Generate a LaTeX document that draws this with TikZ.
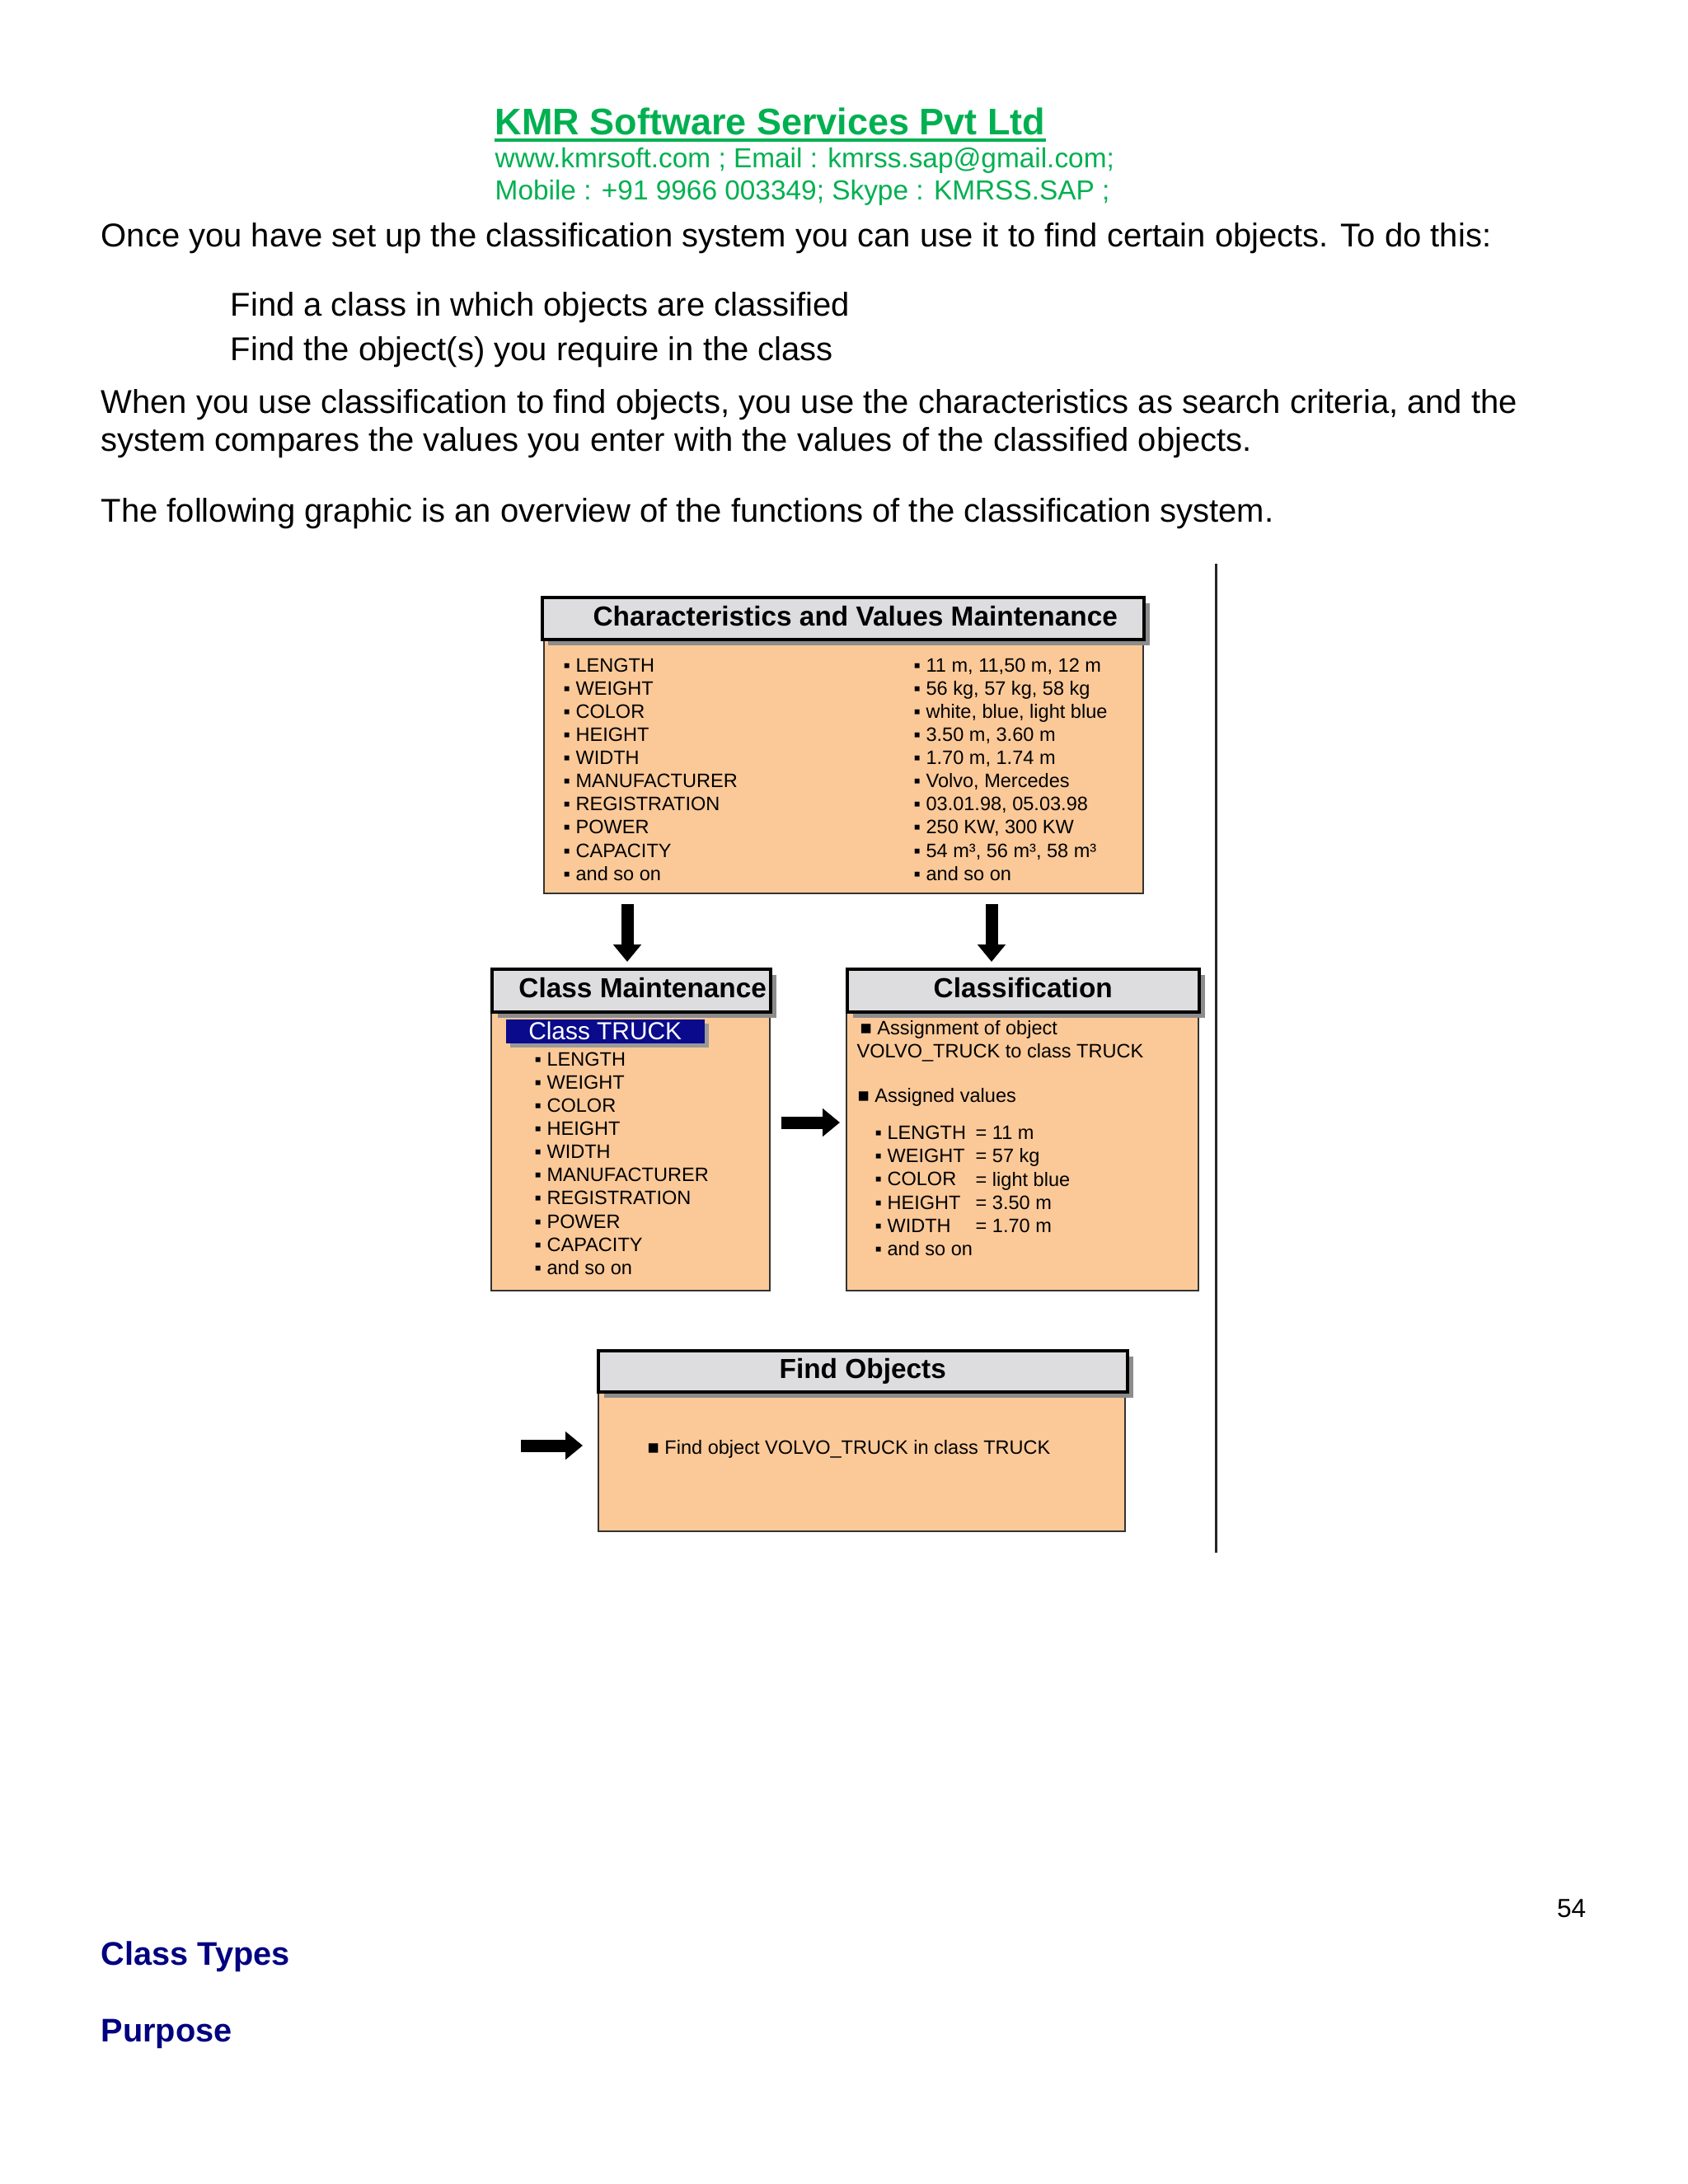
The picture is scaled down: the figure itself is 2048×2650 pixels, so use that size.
\documentclass[tikz,border=0pt]{standalone}
\usepackage{fontspec}
\setmainfont{Liberation Sans}
\usepackage{xcolor}
\usetikzlibrary{arrows.meta,positioning,shadows}

\definecolor{kmrgreen}{RGB}{0,176,80}
\definecolor{headnavy}{RGB}{0,0,128}
\definecolor{boxpeach}{RGB}{251,201,152}
\definecolor{bargray}{RGB}{221,221,223}
\definecolor{selnavy}{RGB}{10,10,140}

\begin{document}
\begin{tikzpicture}[
x=0.1mm, y=-0.1mm,
pagetxt/.style={anchor=base west, inner sep=0pt, font=\fontsize{11.38}{13}\selectfont},
greentxt/.style={anchor=base west, inner sep=0pt, text=kmrgreen, font=\fontsize{9.5}{11}\selectfont},
headtxt/.style={anchor=base west, inner sep=0pt, text=headnavy, font=\bfseries\fontsize{11.3}{13}\selectfont},
boxbody/.style={draw=black!80, line width=0.2mm, fill=boxpeach, anchor=north west, inner sep=0pt},
boxhead/.style={draw=black, line width=0.35mm, fill=bargray, anchor=north west, inner sep=0pt,
font=\bfseries\fontsize{9.5}{11}\selectfont, text height=7pt, text depth=2pt,
drop shadow={shadow xshift=0.7mm, shadow yshift=-0.7mm, fill=black!45, opacity=1}},
listtxt/.style={anchor=base west, inner sep=0pt, align=left, font=\fontsize{6.7}{7.97}\selectfont},
selbox/.style={fill=selnavy, text=white, anchor=north west, inner sep=0pt, minimum width=24.1mm,
minimum height=2.9mm, font=\fontsize{8.5}{10}\selectfont,
drop shadow={shadow xshift=0.5mm, shadow yshift=-0.5mm, fill=black!40, opacity=1}},
blockarrow/.style={line width=1.5mm, -{Triangle[width=3.3mm, length=2.1mm]}}
]
\useasboundingbox[fill=white] (0,0) rectangle (2048,2650);

% letter head
\node[anchor=base west, inner sep=0pt, text=kmrgreen, font=\bfseries\fontsize{12.8}{15}\selectfont] (title) at (600,163) {KMR Software Services Pvt Ltd};
\draw[kmrgreen, line width=0.4mm] ([yshift=-0.6mm]title.south west) -- ([yshift=-0.6mm]title.south east);
\node[greentxt] (web) at (600,203) {www.kmrsoft.com ; Email : kmrss.sap@gmail.com;};
\node[greentxt] (mob) at (600,242) {Mobile : +91 9966 003349; Skype : KMRSS.SAP ;};

% page text
\node[pagetxt] (once) at (122,299) {Once you have set up the classification system you can use it to find certain objects. To do this:};
\node[pagetxt] (stepa) at (279,383) {Find a class in which objects are classified};
\node[pagetxt] (stepb) at (279,437) {Find the object(s) you require in the class};
\node[pagetxt] (whena) at (122,501) {When you use classification to find objects, you use the characteristics as search criteria, and the};
\node[pagetxt] (whenb) at (122,547) {system compares the values you enter with the values of the classified objects.};
\node[pagetxt] (follow) at (122,633) {The following graphic is an overview of the functions of the classification system.};

% characteristics and values (list nodes sit on their last line)
\node[boxbody, minimum width=72.7mm, minimum height=30.9mm] (cvbody) at (659,774) {};
\node[boxhead, minimum width=73mm, minimum height=5.1mm] (cvhead) at (656,723) {\hspace*{3mm}Characteristics and Values Maintenance};
\node[listtxt] (cvnames) at (683,1068) {▪ LENGTH\\▪ WEIGHT\\▪ COLOR\\▪ HEIGHT\\▪ WIDTH\\▪ MANUFACTURER\\▪ REGISTRATION\\▪ POWER\\▪ CAPACITY\\▪ and so on};
\node[listtxt] (cvvals) at (1108,1068) {▪ 11 m, 11,50 m, 12 m\\▪ 56 kg, 57 kg, 58 kg\\▪ white, blue, light blue\\▪ 3.50 m, 3.60 m\\▪ 1.70 m, 1.74 m\\▪ Volvo, Mercedes\\▪ 03.01.98, 05.03.98\\▪ 250 KW, 300 KW\\▪ 54 m³, 56 m³, 58 m³\\▪ and so on};

% class maintenance
\node[boxbody, minimum width=33.8mm, minimum height=33.8mm] (clmbody) at (595,1227) {};
\node[boxhead, minimum width=33.8mm, minimum height=5.2mm] (clmhead) at (595,1174) {\hspace*{2.8mm}Class Maintenance};
\node[selbox] (truck) at (613,1236) {Class TRUCK};
\node[listtxt] (clmnames) at (648,1546) {▪ LENGTH\\▪ WEIGHT\\▪ COLOR\\▪ HEIGHT\\▪ WIDTH\\▪ MANUFACTURER\\▪ REGISTRATION\\▪ POWER\\▪ CAPACITY\\▪ and so on};

% classification
\node[boxbody, minimum width=42.7mm, minimum height=33.8mm] (clsbody) at (1026,1227) {};
\node[boxhead, minimum width=42.7mm, minimum height=5.2mm] (clshead) at (1026,1174) {Classification};
\node[listtxt] (assign) at (1039,1283) {\,■ Assignment of object\\VOLVO\_TRUCK to class TRUCK};
\node[listtxt] (assval) at (1040,1337) {■ Assigned values};
\node[listtxt] (clsnames) at (1061,1523) {▪ LENGTH\\▪ WEIGHT\\▪ COLOR\\▪ HEIGHT\\▪ WIDTH\\▪ and so on};
\node[listtxt] (clsvals) at (1183,1495) {= 11 m\\= 57 kg\\= light blue\\= 3.50 m\\= 1.70 m};

% find objects
\node[boxbody, minimum width=63.9mm, minimum height=17.1mm] (fndbody) at (725,1686) {};
\node[boxhead, minimum width=64.2mm, minimum height=5mm] (fndhead) at (724,1637) {Find Objects};
\node[listtxt] (findtxt) at (785,1764) {■ Find object VOLVO\_TRUCK in class TRUCK};

% arrows
\coordinate (dnleft) at (761,0);
\coordinate (dnright) at (1203,0);
\coordinate (midarr) at (0,1362);
\coordinate (findin) at (632,1754);
\draw[blockarrow, shorten <=1.2mm, shorten >=0.7mm] (cvbody.south -| dnleft) -- (clmhead.north -| dnleft);
\draw[blockarrow, shorten <=1.2mm, shorten >=0.7mm] (cvbody.south -| dnright) -- (clshead.north -| dnright);
\draw[blockarrow, shorten <=1.3mm, shorten >=0.7mm] (clmbody.east |- midarr) -- (clsbody.west |- midarr);
\draw[blockarrow, shorten >=1.8mm] (findin) -- (fndbody.west |- findin);

% rule beside the graphic
\draw[line width=0.3mm, black!85] (1475,684) -- (1475,1884);

% footer
\node[anchor=base east, inner sep=0pt, font=\fontsize{9}{11}\selectfont] (pagenum) at (1925,2326) {54};
\node[headtxt] (types) at (122,2384) {Class Types};
\node[headtxt] (purpose) at (122,2477) {Purpose};
\end{tikzpicture}
\end{document}
